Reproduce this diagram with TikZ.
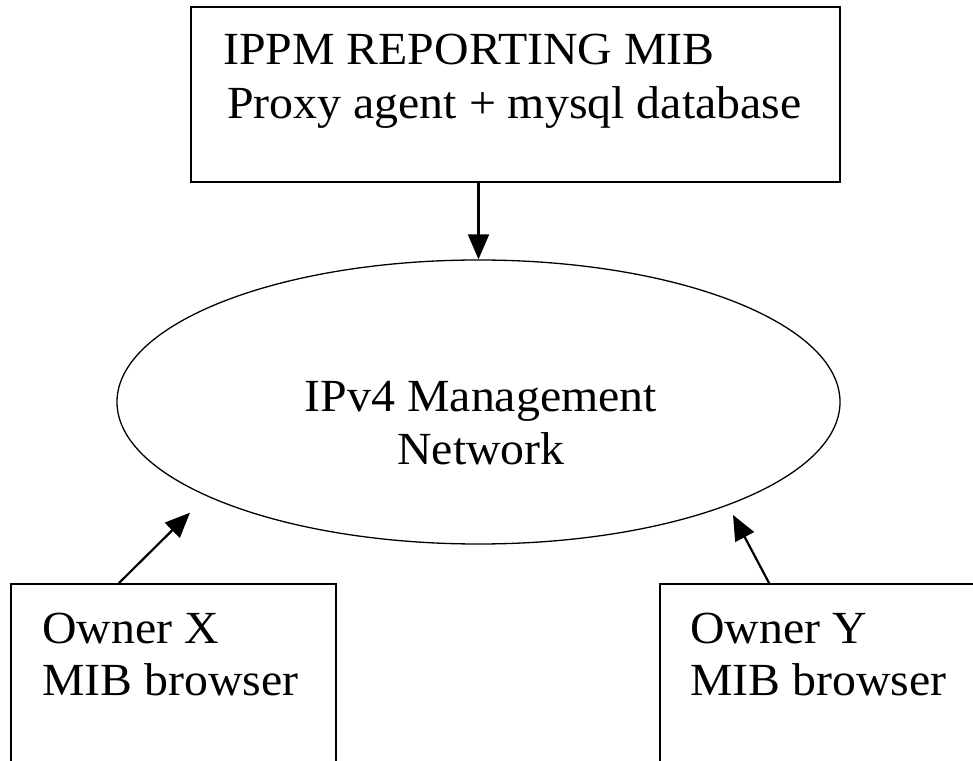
\documentclass[tikz,border=0pt]{standalone}
\usepackage{fontspec}
\setmainfont[FakeStretch=1.04]{Liberation Serif}
\usetikzlibrary{arrows.meta,shapes.geometric}

\begin{document}
\begin{tikzpicture}[x=1pt,y=1pt,
   box/.style={draw,line width=1.8pt,rectangle,inner sep=0pt},
   net/.style={draw,line width=1.3pt,ellipse,inner sep=0pt},
   lbl/.style={inner sep=0pt,font=\fontsize{46}{53}\selectfont},
   link/.style={-{Triangle[length=25pt,width=21pt]},line width=2.2pt}]
   \useasboundingbox (0,0) rectangle (973,760);
   \clip (0,0) rectangle (973,760);

   % boxes and the network
   \node[box,minimum width=649pt,minimum height=175pt] (mib) at (515.3,665.3) {};
   \node[net,minimum width=723pt,minimum height=284pt] (ipnet) at (478.5,358) {};
   \node[box,minimum width=325pt,minimum height=201pt] (ownx) at (173.3,75.5) {};
   \node[box,minimum width=340pt,minimum height=201pt] (owny) at (830,75.5) {};

   % texts
   \node[lbl,anchor=base west] (mibA) at (223,695) {IPPM REPORTING MIB};
   \node[lbl,anchor=base west] (mibB) at (227,641) {Proxy agent + mysql database};
   \node[lbl,anchor=base] (netA) at (481,348.3) {IPv4 Management};
   \node[lbl,anchor=base] (netB) at (481,295) {Network};
   \node[lbl,anchor=base west] (ownxA) at (42,117) {Owner X};
   \node[lbl,anchor=base west] (ownxB) at (42,65) {MIB browser};
   \node[lbl,anchor=base west] (ownyA) at (690,117) {Owner Y};
   \node[lbl,anchor=base west] (ownyB) at (690,65) {MIB browser};

   \coordinate (xtip) at (190,247.3);
   \coordinate (ytip) at (733,245);

   \draw[link] (mib.south -| ipnet.north) -- (ipnet.north);
   \draw[link] ([xshift=109pt]ownx.north west) -- (xtip);
   \draw[link] ([xshift=110pt]owny.north west) -- (ytip);
\end{tikzpicture}
\end{document}
